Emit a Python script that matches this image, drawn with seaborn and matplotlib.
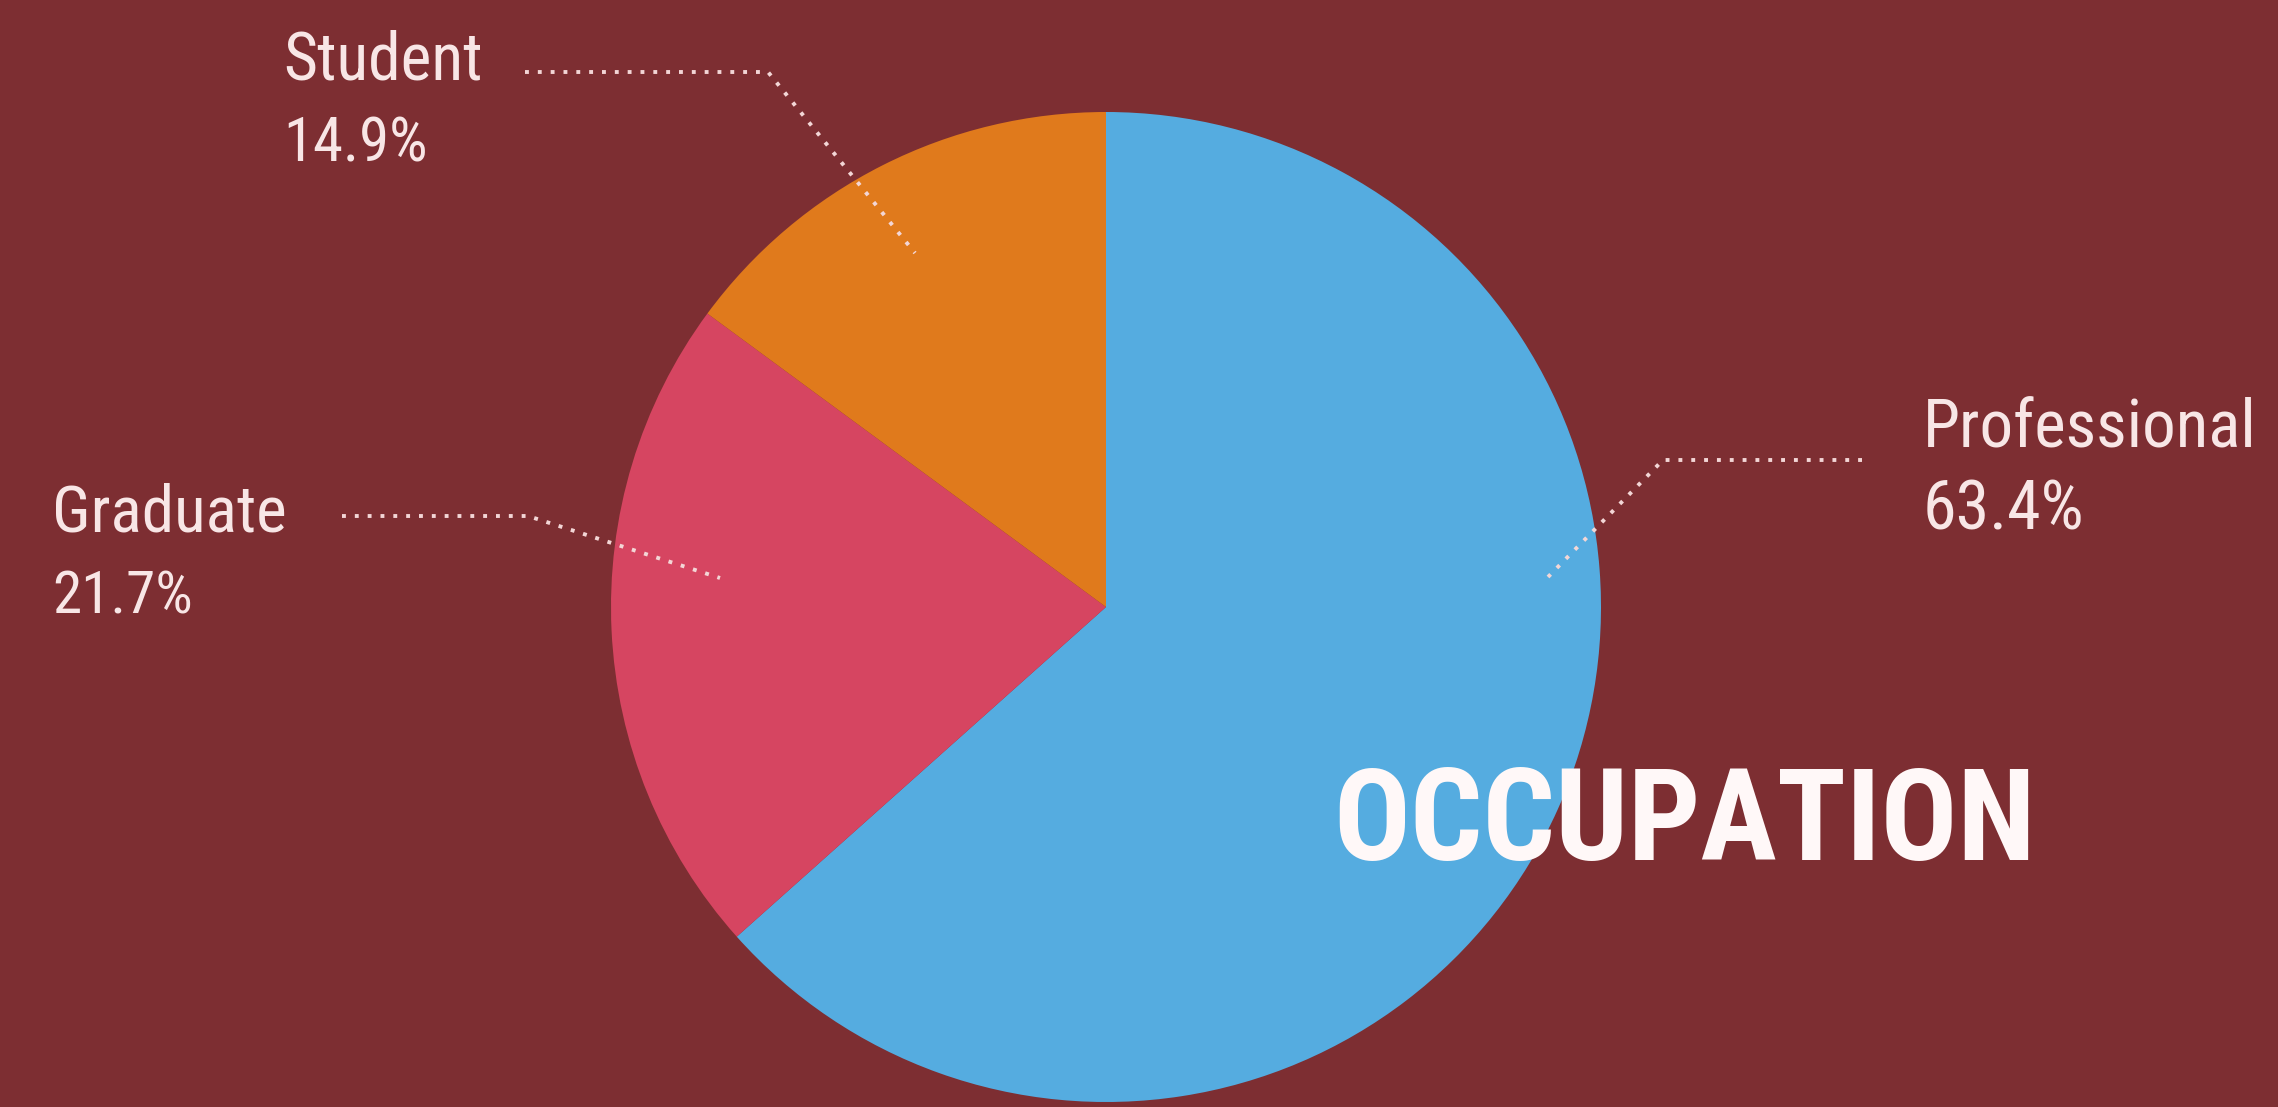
import matplotlib
matplotlib.use("Agg")
import matplotlib.pyplot as plt
from matplotlib import font_manager as fm
import seaborn as sns

# ---- data ----
categories = ["Professional", "Graduate", "Student"]
shares = [63.4, 21.7, 14.9]
pct_labels = ["63.4%", "21.7%", "14.9%"]
title_text = "OCCUPATION"

# ---- style ----
BG = "#7D2E32"
slice_colors = ["#55ACE0", "#D64561", "#E07A1C"]
TEXT = "#F8E6E6"
LINE = "#F3D6D6"

sns.set_theme(style="white")
palette = sns.color_palette(slice_colors)

installed = {f.name for f in fm.fontManager.ttflist}

def pick(cands):
    for c in cands:
        if c in installed:
            return c
    return "DejaVu Sans"

label_font = pick(["Roboto Condensed", "Liberation Sans Narrow", "DejaVu Sans"])
title_font = pick(["Roboto Condensed", "Liberation Sans Narrow", "DejaVu Sans"])
plt.rcParams["font.family"] = [label_font, "DejaVu Sans"]

W, H = 2278, 1107
fig = plt.figure(figsize=(W / 100, H / 100), dpi=100, facecolor=BG)
ax = fig.add_axes([0, 0, 1, 1])
ax.set_facecolor(BG)

def Y(y):  # pixel-from-top -> data y
    return H - y

# pie layout
cx, cy, R = 1106, 607, 495
ax.pie(shares, colors=palette, startangle=90, counterclock=False,
       center=(cx, Y(cy)), radius=R,
       wedgeprops=dict(linewidth=0, edgecolor="none"))
ax.set_xlim(0, W)
ax.set_ylim(0, H)
ax.set_aspect("equal", adjustable="box")
ax.axis("off")

# label layout: (text x, name baseline, pct baseline, name width, pct width, leader path)
layout = {
    "Student": (283, 80, 162, 200, 145, [(525, 72), (768, 72), (915, 253)]),
    "Graduate": (52, 532, 613, 235, 141, [(342, 516), (528, 516), (720, 578)]),
    "Professional": (1923, 448, 530, 334, 162, [(1862, 460), (1663, 460), (1548, 577)]),
}

stretch = "condensed" if label_font == "DejaVu Sans" else "normal"
fs_label = 52.0
fit_items = []  # (text artist, target width px, mode)
for name, pct in zip(categories, pct_labels):
    tx, yb1, yb2, w1, w2, path = layout[name]
    t1 = ax.text(tx, Y(yb1), name, color=TEXT, fontsize=fs_label, family=label_font,
                 fontstretch=stretch, fontweight="normal", ha="left", va="baseline")
    t2 = ax.text(tx, Y(yb2), pct, color=TEXT, fontsize=fs_label, family=label_font,
                 fontstretch=stretch, fontweight="normal", ha="left", va="baseline")
    fit_items += [(t1, w1, 1.0), (t2, w2, 1.0)]
    xs = [p[0] for p in path]
    ys = [Y(p[1]) for p in path]
    ax.plot(xs, ys, color=LINE, linewidth=2.8, linestyle=(0, (1, 2.3)),
            dash_capstyle="butt", solid_joinstyle="miter")

tt = ax.text(1333, Y(860), title_text, color="#FFF8F8", fontsize=98, family=title_font,
             fontweight="bold", fontstretch=stretch, ha="left", va="baseline")
fit_items.append((tt, 659, 0.5))

# shrink texts whose rendered width exceeds the reference width
fig.canvas.draw()
r = fig.canvas.get_renderer()
for t, target, mode in fit_items:
    w = t.get_window_extent(renderer=r).width
    if w > target:
        t.set_fontsize(t.get_fontsize() * (target / w) ** mode)

fig.savefig("out.png", dpi=100, facecolor=BG)
